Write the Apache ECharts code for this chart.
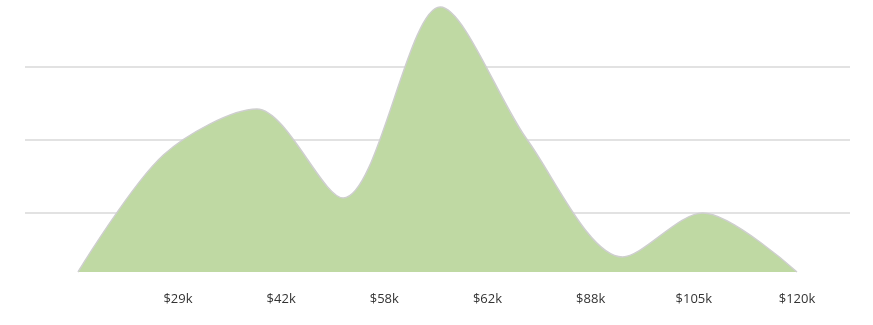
<!DOCTYPE html>
<html><head><meta charset="utf-8">
<script src="https://cdn.jsdelivr.net/npm/echarts@6/dist/echarts.min.js"></script>
<style>html,body{margin:0;padding:0;background:#fff}#c{width:873px;height:325px}</style>
</head><body><div id="c"></div>
<script>
// salary distribution curve (arbitrary units)
const pointX = [0, 0.95, 1.99, 2.95, 4.03, 5.0, 6.06, 6.95, 8];
const density = [0.192, 1.795, 2.425, 1.205, 3.822, 2.0, 0.397, 1.0, 0.192];
const baseline = 0.192;
const tickLabels = ['$29k', '$42k', '$58k', '$62k', '$88k', '$105k', '$120k'];
const tickPositions = [0, 1, 2, 3, 4, 5, 6];

const chart = echarts.init(document.getElementById('c'), null, {renderer: 'canvas'});
chart.setOption({
  animation: false,
  grid: {left: 25, right: 23, top: 0, bottom: 39},
  xAxis: [
    {type: 'value', min: -0.5897, max: 8.5897, show: false},
    {type: 'value', position: 'bottom', min: -1.483, max: 6.514,
     axisLine: {show: false}, axisTick: {show: false}, splitLine: {show: false},
     axisLabel: {customValues: tickPositions, margin: 7, color: '#333', fontSize: 13,
       fontFamily: 'Open Sans', formatter: v => tickLabels[Math.round(v)] || ''}}
  ],
  yAxis: {type: 'value', min: 0, max: 3.918, interval: 1,
    axisLine: {show: false}, axisTick: {show: false}, axisLabel: {show: false},
    splitLine: {show: true, showMinLine: false, showMaxLine: false, lineStyle: {color: '#d9d9d9', width: 1.5}}},
  series: [{
    type: 'line', xAxisIndex: 0, smooth: 0.3, symbol: 'none',
    data: pointX.map((x, i) => [x, density[i]]),
    lineStyle: {color: '#cfcfcf', width: 1.5},
    areaStyle: {color: '#bfd9a3', opacity: 1, origin: baseline}
  }]
});
</script></body></html>
